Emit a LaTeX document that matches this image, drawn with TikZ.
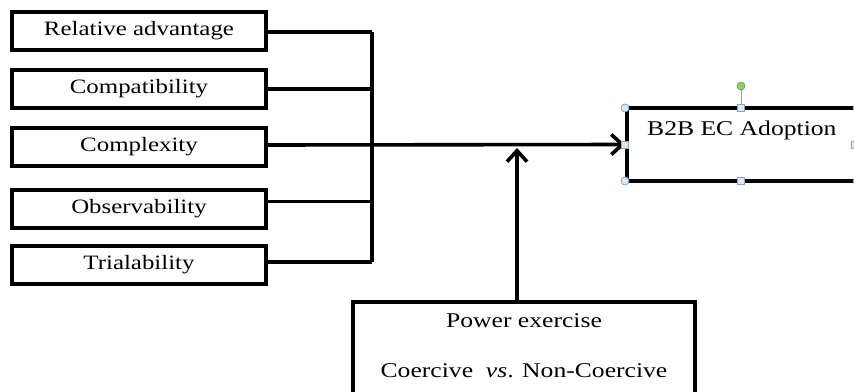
\documentclass[tikz,border=0pt]{standalone}
\usepackage{fontspec}
\newfontfamily\dfont{Liberation Serif}[FakeStretch=1.22]
\usetikzlibrary{arrows.meta}
\definecolor{handlefill}{HTML}{DCE9F2}
\definecolor{handledraw}{HTML}{8AA3B8}
\definecolor{rotgreen}{HTML}{8ED14B}
\begin{document}
\begin{tikzpicture}[x=1pt,y=-1pt,
  factor/.style={draw=black, line width=4pt, rectangle, minimum width=254pt, minimum height=38pt, inner sep=0pt, font=\dfont\fontsize{20.4}{24}\selectfont},
  conn/.style={line width=3.6pt},
  arr/.style={line width=3.6pt, -{Straight Barb[length=11pt, width=20pt, line width=3.6pt]}},
  handle/.style={fill=handlefill, draw=handledraw, line width=0.8pt},
  txt/.style={font=\dfont\fontsize{21}{25}\selectfont, inner sep=0pt}]
\useasboundingbox (0,0) rectangle (854,391);
% factor boxes
\node[factor] (b1) at (139,31) {Relative advantage};
\node[factor] (b2) at (139,89) {Compatibility};
\node[factor] (b3) at (139,147) {Complexity};
\node[factor] (b4) at (139,208.5) {Observability};
\node[factor] (b5) at (139,265) {Trialability};
% bus
\coordinate (bustop) at (372,32);
\coordinate (busbot) at (372,262);
\draw[conn] (bustop) -- (busbot);
\draw[conn] ([yshift=-1pt]b1.east) -- (bustop);
\draw[conn] (b2.east) -- (b2.east -| bustop);
\draw[conn] ([yshift=7pt]b4.east) -- ([yshift=7pt]b4.east -| bustop);
\draw[conn] ([yshift=3pt]b5.east) -- (busbot);
% outcome box
\node[draw=black, line width=4pt, rectangle, minimum width=290pt, minimum height=73pt, inner sep=0pt, anchor=west] (out) at (625,144.5) {};
\node[txt, anchor=base west] (outtxt) at (647,135) {B2B EC Adoption};
% main arrow
\draw[arr] ([yshift=2pt]b3.east) -- (out.west);
% power box
\node[draw=black, line width=4pt, rectangle, minimum width=342pt, minimum height=110pt, inner sep=0pt, anchor=north] (pow) at (524,300) {};
\node[txt, anchor=base] (p1) at (524,327) {Power exercise};
\node[txt, anchor=base] (p2) at (524,377) {Coercive\ \ \textit{vs}. Non-Coercive};
\coordinate (ptip) at (517,148);
\draw[arr] (pow.north -| ptip) -- (ptip);
% selection handles
\coordinate (rot) at (741,86);
\draw[handledraw, line width=1pt] (rot) -- (741,108);
\fill[rotgreen] (rot) circle (4pt);
\draw[draw=handledraw!80!black, line width=0.6pt] (rot) circle (4pt);
\draw[handle] (625,108) circle (4pt);
\draw[handle] (625,181) circle (4pt);
\draw[handle] (857,108) circle (4pt);
\draw[handle] (857,181) circle (4pt);
\draw[handle] (737.5,104.5) rectangle (744.5,111.5);
\draw[handle] (737.5,177.5) rectangle (744.5,184.5);
\draw[handle] (621.5,141) rectangle (628.5,148);
\draw[handle] (851,141) rectangle (858,148);
\end{tikzpicture}
\end{document}
